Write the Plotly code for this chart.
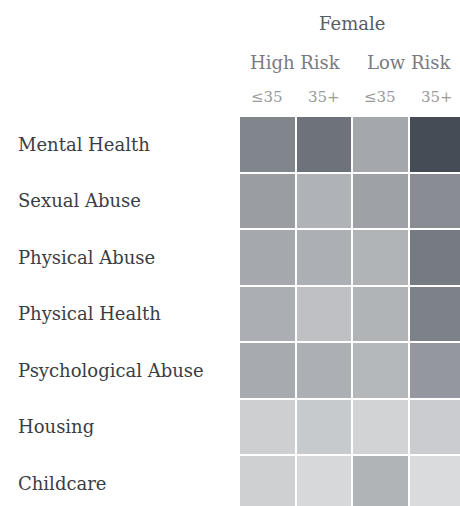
import plotly.graph_objects as go

categories = ["Mental Health", "Sexual Abuse", "Physical Abuse", "Physical Health",
              "Psychological Abuse", "Housing", "Childcare"]
col_labels = ["≤35", "35+", "≤35", "35+"]
risk_groups = ["High Risk", "Low Risk"]
gender = "Female"

# intensity per category (rows) x group (cols)
values = [
    [63, 73, 43, 94],
    [50, 35, 47, 59],
    [42, 37, 34, 69],
    [38, 25, 34, 65],
    [41, 37, 31, 53],
    [14, 18, 11, 16],
    [13, 7, 34, 5],
]

cols = list(range(len(col_labels)))
rows = list(range(len(categories)))

fig = go.Figure(go.Heatmap(
    z=values, x=cols, y=rows,
    colorscale=[[0, "#e1e2e3"], [0.5, "#9a9ea3"], [1, "#3a414b"]],
    zmin=0, zmax=100, showscale=False, xgap=2, ygap=2, hoverinfo="skip",
))

W, H = 460, 506
L, T = 239, 116
fig.update_layout(
    width=W, height=H,
    margin=dict(l=L, r=0, t=T, b=0, pad=0),
    paper_bgcolor="white", plot_bgcolor="white",
    font=dict(family="DejaVu Serif", color="#333"),
)
fig.update_xaxes(range=[-0.5, 3.41], showgrid=False, zeroline=False, showticklabels=False, ticks="")
fig.update_yaxes(range=[6.4, -0.5], showgrid=False, zeroline=False, showticklabels=False, ticks="")

for i, c in enumerate(categories):
    fig.add_annotation(text=c, x=0, xref="paper", xshift=16 - L, xanchor="left",
                       y=i, yref="y", yanchor="middle", showarrow=False,
                       font=dict(size=18, color="#3a3d45"))

for j, lab in enumerate(col_labels):
    fig.add_annotation(text=lab, x=j, xref="x", y=1, yref="paper", yanchor="middle",
                       yshift=T - 97, showarrow=False,
                       font=dict(size=15, color="#9a9a9a"))

for k, r in enumerate(risk_groups):
    fig.add_annotation(text=r, x=2 * k + 0.5, xref="x", y=1, yref="paper", yanchor="middle",
                       yshift=T - 62, showarrow=False,
                       font=dict(size=18, color="#7a7b82"))

fig.add_annotation(text=gender, x=1.5, xref="x", y=1, yref="paper", yanchor="middle",
                   yshift=T - 23, showarrow=False,
                   font=dict(size=18, color="#5a5c63"))

fig.write_html(
    "out.html",
    config={"displayModeBar": False, "staticPlot": True},
    post_script="document.body.style.margin='0';document.body.style.overflow='hidden';",
)
